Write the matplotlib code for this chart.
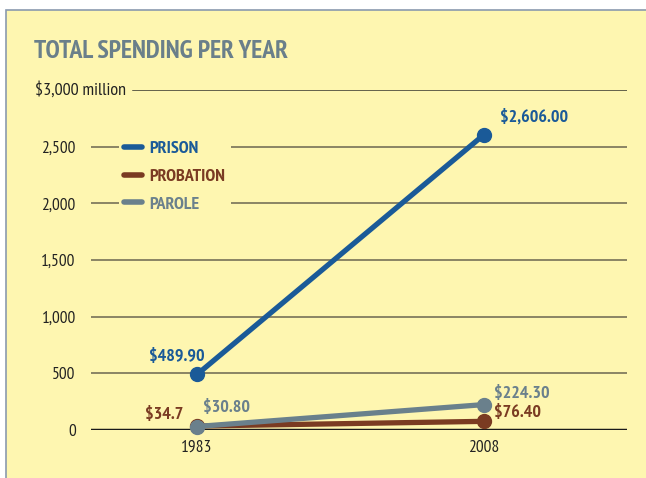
import matplotlib
matplotlib.use("Agg")
import matplotlib.pyplot as plt
from matplotlib.lines import Line2D
from matplotlib.patches import Rectangle

plt.rcParams['font.family'] = ['PT Sans Narrow', 'DejaVu Sans']

years = ["1983", "2008"]
prison = [489.90, 2606.00]
probation = [34.7, 76.40]
parole = [30.80, 224.30]
prison_labels = ["$489.90", "$2,606.00"]
probation_labels = ["$34.7", "$76.40"]
parole_labels = ["$30.80", "$224.30"]
yticks = [0, 500, 1000, 1500, 2000, 2500, 3000]
ytick_labels = ["0", "500", "1,000", "1,500", "2,000", "2,500", ""]

BG = "#fef6b0"
C_PRISON = "#1a5a98"
C_PROB = "#7a3b22"
C_PAROLE = "#6a808c"
TITLE_C = "#6a7f8a"

W, H = 646, 478
fig = plt.figure(figsize=(W/100, H/100), dpi=100)
fig.patch.set_facecolor("white")
bgrect = Rectangle((6/W, -0.1), 1.1, 1 - 10/H + 0.1, transform=fig.transFigure,
                   facecolor=BG, edgecolor="#8a9aae", linewidth=1.2, zorder=-10)
fig.add_artist(bgrect)

ax = fig.add_axes([91/W, (H-430)/H, 536/W, 340/H])
ax.set_facecolor("none")
ax.set_zorder(1)
x = [0, 1]
ax.set_xlim(-106/287, 1 + 143/287)
ax.set_ylim(0, 3000)
for s in ax.spines.values():
    s.set_visible(False)

# gridlines
for yv in yticks[1:-1]:
    ax.axhline(yv, color="#6b6650", lw=1.1, zorder=1)
ax.axhline(3000, xmin=42/536, color="#3a3a30", lw=1.1, zorder=1)
ax.axhline(0, color="#1a1a1a", lw=2.5, zorder=2)

ax.set_yticks(yticks)
ax.set_yticklabels(ytick_labels)
ax.set_xticks(x)
ax.set_xticklabels(years)
ax.tick_params(axis="y", length=0, pad=11, labelsize=12.5, labelcolor="#222222")
ax.tick_params(axis="x", length=0, pad=7, labelsize=12.5, labelcolor="#222222")

lw = 3.8
ms = 10
ax.plot(x, probation, color=C_PROB, lw=lw, marker="o", ms=ms, clip_on=False, zorder=4,
        solid_capstyle="round")
ax.plot(x, parole, color=C_PAROLE, lw=lw, marker="o", ms=ms, clip_on=False, zorder=5,
        solid_capstyle="round")
ax.plot(x, prison, color=C_PRISON, lw=lw, marker="o", ms=ms, clip_on=False, zorder=6,
        solid_capstyle="round")

fs = 13
def lab(xv, yv, t, c, dx, dy, ha):
    ax.annotate(t, (xv, yv), xytext=(dx, dy), textcoords="offset pixels", ha=ha, va="center",
                color=c, fontsize=fs, fontweight="bold", zorder=7)

lab(0, prison[0], prison_labels[0], C_PRISON, 8, 17, "right")
lab(1, prison[1], prison_labels[1], C_PRISON, 16, 17, "left")
lab(0, probation[0], probation_labels[0], C_PROB, -14, 11, "right")
lab(0, parole[0], parole_labels[0], C_PAROLE, 6, 19, "left")
lab(1, parole[1], parole_labels[1], C_PAROLE, 10, 11, "left")
lab(1, probation[1], probation_labels[1], C_PROB, 10, 8, "left")

handles = [Line2D([0], [0], color=c, lw=4, solid_capstyle="round") for c in (C_PRISON, C_PROB, C_PAROLE)]
leg = ax.legend(handles, ["PRISON", "PROBATION", "PAROLE"], loc="upper left",
                bbox_to_anchor=(28/536, (430-135)/340), frameon=True, facecolor=BG,
                edgecolor="none", framealpha=1, handlelength=0.95, handletextpad=0.45,
                labelspacing=0.62, borderpad=0.3, borderaxespad=0,
                prop={"size": 13, "weight": "bold"})
for t, c in zip(leg.get_texts(), (C_PRISON, C_PROB, C_PAROLE)):
    t.set_color(c)
leg.set_zorder(3)

fig.text(35/W, 1 - 90/H, "$3,000 million", ha="left", va="center", fontsize=13, color="#222222")
fig.text(34/W, 1 - 51/H, "TOTAL SPENDING PER YEAR", ha="left", va="center", fontsize=18.5,
         fontweight="bold", color=TITLE_C)

fig.savefig("out.png", dpi=100, facecolor=fig.get_facecolor())
